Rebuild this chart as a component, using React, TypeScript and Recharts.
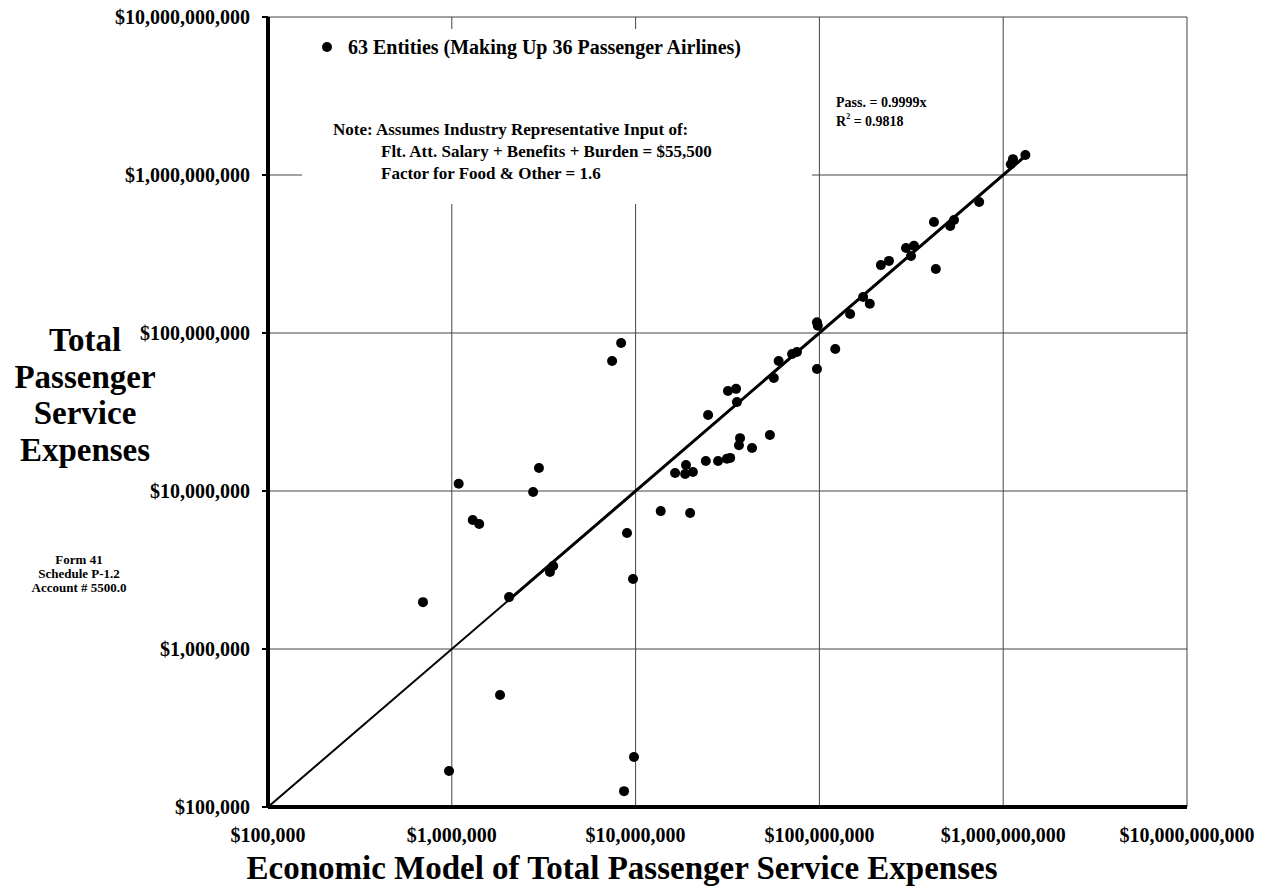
import React from "react";
import {
  CartesianGrid,
  ReferenceLine,
  Scatter,
  ScatterChart,
  XAxis,
  YAxis,
} from "recharts";

// Economic model estimate (x) vs reported Form 41 expense (y), one entry per entity
const modelValues = [
  1.32e9, 1.13e9, 1.1e9, 7.4e8, 4.2e8, 5.4e8, 5.15e8, 2.96e8, 3.27e8, 3.15e8,
  4.3e8, 2.16e8, 2.39e8, 1.73e8, 1.88e8, 1.47e8, 9.7e7, 9.8e7, 1.22e8, 7.55e7,
  7.1e7, 6.0e7, 5.65e7, 9.7e7, 3.56e7, 3.18e7, 3.52e7, 2.48e7, 5.38e7, 3.7e7,
  3.65e7, 4.3e7, 3.27e7, 3.14e7, 2.81e7, 2.41e7, 1.88e7, 1.64e7, 1.86e7, 2.05e7,
  8.34e6, 7.45e6, 2.98e6, 1.09e6, 2.77e6, 1.3e6, 1.41e6, 1.37e7, 1.98e7, 8.98e6,
  3.56e6, 3.42e6, 2.05e6, 9.68e6, 6.97e5, 1.83e6, 9.66e5, 9.8e6, 8.65e6,
];
const reportedValues = [
  1.34e9, 1.26e9, 1.17e9, 6.75e8, 5.04e8, 5.19e8, 4.75e8, 3.45e8, 3.56e8, 3.07e8,
  2.54e8, 2.69e8, 2.86e8, 1.69e8, 1.53e8, 1.32e8, 1.17e8, 1.11e8, 7.93e7, 7.59e7,
  7.37e7, 6.65e7, 5.19e7, 5.92e7, 3.66e7, 4.3e7, 4.43e7, 3.03e7, 2.26e7, 2.16e7,
  1.95e7, 1.87e7, 1.62e7, 1.6e7, 1.55e7, 1.55e7, 1.46e7, 1.3e7, 1.28e7, 1.32e7,
  8.65e7, 6.65e7, 1.4e7, 1.11e7, 9.86e6, 6.55e6, 6.18e6, 7.46e6, 7.26e6, 5.42e6,
  3.35e6, 3.07e6, 2.13e6, 2.77e6, 1.98e6, 5.12e5, 1.69e5, 2.07e5, 1.26e5,
];
const axisTicks = [1e5, 1e6, 1e7, 1e8, 1e9, 1e10];
const trendSlope = 0.9999;
const trendStart = 1e5;
const trendFitStart = 2e6;
const trendEnd = 1.3e9;

const yTitleLines = ["Total", "Passenger", "Service", "Expenses"];
const sourceLines = ["Form 41", "Schedule P-1.2", "Account # 5500.0"];
const legendLabel = "63 Entities (Making Up 36 Passenger Airlines)";
const noteLines = [
  "Note: Assumes Industry Representative Input of:",
  "Flt. Att. Salary + Benefits + Burden = $55,500",
  "Factor for Food & Other = 1.6",
];

const FONT = '"Liberation Serif", "Times New Roman", serif';
const W = 1263;
const H = 893;

const money = (v: number) => "$" + Math.round(v).toLocaleString("en-US");

const points = modelValues.map((x, i) => ({ x, y: reportedValues[i] }));

const YTick = (props: any) => (
  <text
    x={props.x}
    y={props.y}
    textAnchor="end"
    dominantBaseline="central"
    fontFamily={FONT}
    fontWeight="bold"
    fontSize={20}
    fill="#000"
  >
    {money(props.payload.value)}
  </text>
);

const XTick = (props: any) => (
  <text
    x={props.x}
    y={props.y}
    textAnchor="middle"
    dominantBaseline="central"
    fontFamily={FONT}
    fontWeight="bold"
    fontSize={20}
    fill="#000"
  >
    {money(props.payload.value)}
  </text>
);

const Dot = (props: any) => {
  if (props.cx == null || props.cy == null) return null;
  return <circle cx={props.cx} cy={props.cy} r={5} fill="#000" />;
};

export default function App() {
  // cancel the body margin so chart coordinates equal page coordinates
  return (
    <div style={{ position: "relative", width: W, height: H, margin: "-8px 0 0 -8px" }}>
      <ScatterChart
        width={W}
        height={H}
        margin={{ top: 17, right: 76, bottom: 0, left: 0 }}
      >
        <CartesianGrid stroke="#444" strokeWidth={1} />
        <XAxis
          type="number"
          dataKey="x"
          scale="log"
          domain={[1e5, 1e10]}
          ticks={axisTicks}
          allowDataOverflow
          height={86}
          axisLine={{ stroke: "#000", strokeWidth: 4 }}
          tickLine={false}
          tickSize={6}
          tickMargin={22}
          tick={<XTick />}
        />
        <YAxis
          type="number"
          dataKey="y"
          scale="log"
          domain={[1e5, 1e10]}
          ticks={axisTicks}
          allowDataOverflow
          width={268}
          axisLine={{ stroke: "#000", strokeWidth: 4 }}
          tickLine={{ stroke: "#000", strokeWidth: 2 }}
          tickSize={6}
          tickMargin={12}
          tick={<YTick />}
        />
        <ReferenceLine
          segment={[
            { x: trendStart, y: trendStart },
            { x: trendEnd, y: trendEnd * trendSlope },
          ]}
          ifOverflow="visible"
          stroke="#000"
          strokeWidth={2}
        />
        <ReferenceLine
          segment={[
            { x: trendFitStart, y: trendFitStart * trendSlope },
            { x: trendEnd, y: trendEnd * trendSlope },
          ]}
          ifOverflow="visible"
          stroke="#000"
          strokeWidth={3}
        />
        <Scatter data={points} shape={<Dot />} isAnimationActive={false} />
      </ScatterChart>

      <svg
        width={W}
        height={H}
        style={{ position: "absolute", left: 0, top: 0, pointerEvents: "none" }}
        fontFamily={FONT}
        fontWeight="bold"
      >
        <rect x={302} y={29} width={510} height={175} fill="#fff" />
        <circle cx={327} cy={47} r={5} fill="#000" />
        <text x={348} y={47} fontSize={20} dominantBaseline="central">
          {legendLabel}
        </text>
        {noteLines.map((t, i) => (
          <text
            key={t}
            x={i === 0 ? 333 : 381}
            y={129 + i * 22}
            fontSize={17}
            dominantBaseline="central"
          >
            {t}
          </text>
        ))}
        <text x={836} y={102} fontSize={14} dominantBaseline="central">
          Pass. = 0.9999x
        </text>
        <text x={836} y={121} fontSize={14} dominantBaseline="central">
          R<tspan dy={-5} fontSize={8}>2</tspan>
          <tspan dy={5}> = 0.9818</tspan>
        </text>
        {yTitleLines.map((t, i) => (
          <text
            key={t}
            x={85}
            y={340 + i * 36.5}
            fontSize={33}
            textAnchor="middle"
            dominantBaseline="central"
          >
            {t}
          </text>
        ))}
        {sourceLines.map((t, i) => (
          <text
            key={t}
            x={79}
            y={559 + i * 14}
            fontSize={13}
            textAnchor="middle"
            dominantBaseline="central"
          >
            {t}
          </text>
        ))}
        <text
          x={622}
          y={868}
          fontSize={33}
          textAnchor="middle"
          dominantBaseline="central"
        >
          Economic Model of Total Passenger Service Expenses
        </text>
      </svg>
    </div>
  );
}
